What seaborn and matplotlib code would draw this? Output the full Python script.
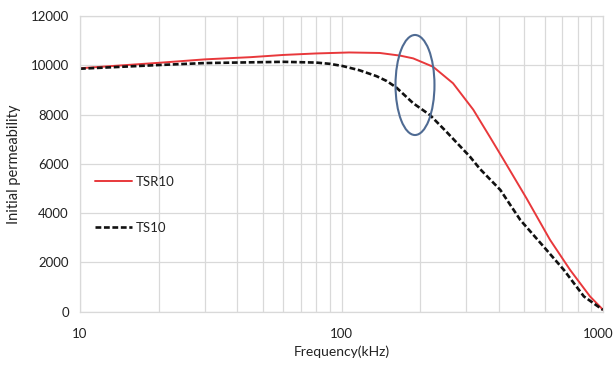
import numpy as np
import pandas as pd
import matplotlib
matplotlib.use("Agg")
import matplotlib.pyplot as plt
import matplotlib.transforms as mtransforms
from matplotlib.patches import Ellipse
import seaborn as sns

# ---- data ----
tsr10_freq = [10, 20, 30, 45, 60, 80, 107, 140, 168, 188, 224, 267, 319, 369, 415, 510, 627, 748, 892, 1000]
tsr10_perm = [9880, 10100, 10240, 10330, 10420, 10480, 10520, 10500, 10390, 10280, 9940, 9270, 8200, 7100, 6200, 4600, 2920, 1700, 620, 80]

ts10_freq = [10, 20, 30, 45, 60, 80, 90, 101, 117, 136, 149, 162, 188, 218, 252, 310, 338, 405, 483, 593, 708, 845, 1000]
ts10_perm = [9860, 10010, 10090, 10120, 10140, 10110, 10060, 9970, 9800, 9560, 9360, 9100, 8460, 7980, 7300, 6290, 5800, 4940, 3720, 2640, 1700, 620, 70]

x_ticks = [10, 100, 1000]
y_ticks = [0, 2000, 4000, 6000, 8000, 10000, 12000]

# highlight ellipse (annotation)
ellipse_center_freq = 191
ellipse_center_perm = 9200
ellipse_width_decades = 0.149
ellipse_height_perm = 4060

sns.set_theme(style="white")
plt.rcParams["font.family"] = ["Lato", "DejaVu Sans"]

df_r = pd.DataFrame({"freq": tsr10_freq, "perm": tsr10_perm})
df_b = pd.DataFrame({"freq": ts10_freq, "perm": ts10_perm})

fig = plt.figure(figsize=(6.16, 3.65), dpi=100)
ax = fig.add_axes([80 / 616, (365 - 311.7) / 365, 523 / 616, 295.7 / 365])

sns.lineplot(data=df_r, x="freq", y="perm", ax=ax, color="#e8383b", lw=1.4,
             label="TSR10", estimator=None, sort=False)
sns.lineplot(data=df_b, x="freq", y="perm", ax=ax, color="#111111", lw=1.9,
             label="TS10", estimator=None, sort=False, dashes=False)
ax.lines[1].set_dashes((2.2, 1.0))
for ln in ax.lines:
    ln.set_solid_joinstyle("round")
    ln.set_dash_joinstyle("round")

ax.set_xscale("log")
ax.set_xlim(10, 1000)
ax.set_ylim(0, 12000)
ax.set_xticks(x_ticks)
ax.set_xticklabels([str(t) for t in x_ticks])
ax.set_yticks(y_ticks)
ax.set_yticklabels([str(t) for t in y_ticks])
ax.xaxis.set_minor_locator(matplotlib.ticker.LogLocator(base=10, subs=np.arange(2, 10)))
ax.xaxis.set_minor_formatter(matplotlib.ticker.NullFormatter())

grid_c = "#d9d9d9"
ax.grid(True, which="major", axis="both", color=grid_c, lw=0.9)
ax.grid(True, which="minor", axis="x", color=grid_c, lw=0.9)
ax.set_axisbelow(True)
for s in ax.spines.values():
    s.set_color(grid_c)
    s.set_linewidth(0.9)

ax.tick_params(axis="both", which="both", length=0, labelsize=9.5, colors="#222222")
ax.tick_params(axis="x", pad=12)
ax.tick_params(axis="y", pad=8)

# nudge the last x tick label inward so it stays inside the figure
last = ax.get_xticklabels()[-1]
last.set_transform(last.get_transform() +
                   mtransforms.ScaledTranslation(-5 / 100, 0, fig.dpi_scale_trans))

ax.set_xlabel("Frequency(kHz)", fontsize=10, color="#222222", labelpad=4)
ax.set_ylabel("Initial permeability", fontsize=10.5, color="#222222", labelpad=7)

leg = ax.legend(loc="upper left", bbox_to_anchor=(0.029, 0.46), frameon=False,
                borderaxespad=0, borderpad=0, handlelength=2.8, handletextpad=0.3,
                labelspacing=2.6, fontsize=9.5)
for t in leg.get_texts():
    t.set_color("#222222")

# ellipse in axes fraction computed from data values
lx0, lx1 = np.log10(ax.get_xlim())
fx = (np.log10(ellipse_center_freq) - lx0) / (lx1 - lx0)
fy = ellipse_center_perm / ax.get_ylim()[1]
fw = ellipse_width_decades / (lx1 - lx0)
fh = ellipse_height_perm / ax.get_ylim()[1]
ax.add_patch(Ellipse((fx, fy), fw, fh, transform=ax.transAxes, fill=False,
                     edgecolor="#4f6b93", lw=1.5, zorder=5))

fig.savefig("out.png", dpi=100)
